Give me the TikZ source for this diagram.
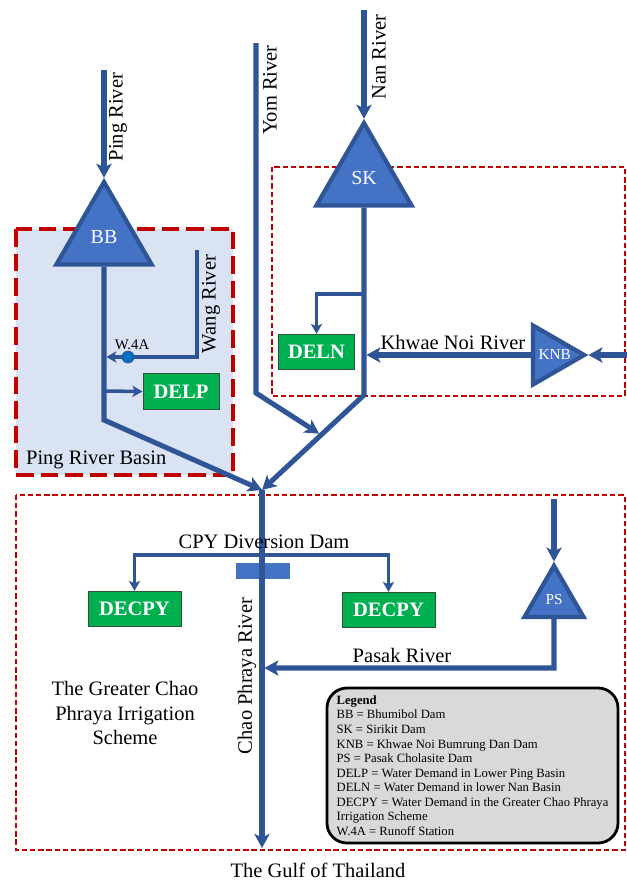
\documentclass[tikz,border=0pt]{standalone}
\usepackage{fontspec}
\setmainfont{Liberation Serif}
\usetikzlibrary{arrows.meta,shapes.geometric,positioning,calc}
\definecolor{rivblue}{HTML}{2F5597}
\definecolor{damblue}{HTML}{4472C4}
\definecolor{demgreen}{HTML}{00B050}
\definecolor{demline}{HTML}{2E5232}
\definecolor{basinred}{HTML}{C00000}
\definecolor{basinfill}{HTML}{DAE3F3}
\definecolor{legendgray}{HTML}{D9D9D9}
\definecolor{gaugeblue}{HTML}{0070C0}
\tikzset{dam/.style={regular polygon, regular polygon sides=3, draw=rivblue, fill=damblue, line width=3.6pt, inner sep=0pt, minimum size=3.3cm, text=white, font=\fontsize{17}{17}\selectfont},
smalldam/.style={dam, minimum size=2.05cm, font=\fontsize{13}{13}\selectfont},
damtext/.style={text=white, font=\fontsize{13}{13}\selectfont},
dembox/.style={draw=demline, fill=demgreen, line width=0.8pt, text=white, inner sep=0pt, minimum width=2.28cm, minimum height=1.06cm, font=\bfseries\fontsize{17.5}{17.5}\selectfont},
riverline/.style={draw=rivblue, line width=4.3pt, -{Stealth[length=12pt, width=13pt, inset=3pt]}},
branch/.style={draw=rivblue, line width=3pt, -{Stealth[length=8.5pt, width=9.5pt, inset=2pt]}},
basinthick/.style={draw=basinred, line width=4.2pt, dash pattern=on 15pt off 6pt},
basinthin/.style={draw=basinred, line width=1.4pt, dash pattern=on 4.5pt off 2.5pt},
gauge/.style={circle, fill=gaugeblue, draw=rivblue, line width=0.6pt, inner sep=0pt, minimum size=0.36cm},
legendbox/.style={draw=black, line width=2.4pt, fill=legendgray, rounded corners=0.6cm, align=left, minimum width=8.73cm, minimum height=4.65cm, font=\fontsize{10.8}{12.4}\selectfont}}

\begin{document}
\begin{tikzpicture}[x=0.03cm, y=-0.03cm, font=\fontsize{17.5}{21.3}\selectfont]
\useasboundingbox (0,0) rectangle (627,883);
\filldraw[basinthick, fill=basinfill] (16,229) rectangle (233,475);
\draw[basinthin] (272,167) rectangle (625,396);
\draw[basinthin] (16,495) rectangle (625,850);

\node[dam] (BB) at (104,237) {BB};
\node[dam] (SK) at (364,178) {SK};
\node[smalldam, shape border rotate=-90, label={[damtext, xshift=4pt]center:KNB}] (KNB) at (550,355) {};
\node[smalldam] (PS) at (554,600) {PS};
\node[dembox] (DELP) at (181,391.5) {DELP};
\node[dembox] (DELN) at (316.5,352) {DELN};
\node[dembox, minimum width=2.79cm] (DECPYl) at (134.5,609) {DECPY};
\node[dembox, minimum width=2.79cm] (DECPYr) at (388.5,610) {DECPY};
\node[fill=damblue, inner sep=0pt, minimum width=1.62cm, minimum height=0.48cm] (CPY) at (263,571) {};

\coordinate (pingsrc) at (104,70);
\coordinate (pingbend) at (104,420);
\coordinate (pingW) at (104,357);
\coordinate (pingD) at (104,391);
\coordinate (wangsrc) at (197,250);
\coordinate (yomsrc) at (256,43);
\coordinate (yombend) at (256,393);
\coordinate (nansrc) at (364,10);
\coordinate (nanbend) at (364,395);
\coordinate (nanD) at (364,294);
\coordinate (nanK) at (364,355);
\coordinate (khwsrc) at (627,355);
\coordinate (J) at (262,490);
\coordinate (yomjoin) at ($(nanbend)!0.42!(J)$);
\coordinate (cpyC) at (262,555);
\coordinate (pssrc) at (554,499);
\coordinate (psbend) at (554,668);
\coordinate (chaoP) at (262,668);
\coordinate (gulf) at (262,848);

\draw[riverline] (pingsrc) -- (BB.corner 1);
\draw[riverline] (BB.south) -- (pingbend) -- (J);
\draw[branch, shorten >=2pt] (wangsrc) |- (pingW);
\draw[branch] (pingD) -- (DELP.west);
\draw[riverline, shorten >=2pt] (yomsrc) -- (yombend) -- (yomjoin);
\draw[riverline] (nansrc) -- (SK.corner 1);
\draw[riverline] (SK.south) -- (nanbend) -- (J);
\draw[branch] (nanD) -| (DELN.north);
\draw[riverline] (khwsrc) -- (KNB.corner 1);
\draw[riverline, shorten >=2pt] (KNB.west) -- (nanK);
\draw[riverline] (J) -- (gulf);
\draw[branch] (cpyC) -| (DECPYl.north);
\draw[branch] (cpyC) -| (DECPYr.north);
\draw[riverline] (pssrc) -- (PS.corner 1);
\draw[riverline, shorten >=2pt] (PS.south) -- (psbend) -- (chaoP);
\node[gauge] (W4A) at (128,357) {};

\node[rotate=90] (lblPing) at (118,117) {Ping River};
\node[rotate=90] (lblYom) at (270,90) {Yom River};
\node[rotate=90] (lblNan) at (379,57) {Nan River};
\node[rotate=90] (lblWang) at (211,304) {Wang River};
\node[font=\fontsize{12.6}{12.6}\selectfont] (lblW4A) at (132,345) {W.4A};
\node[anchor=west] (lblBasin) at (22,460) {Ping River Basin};
\node (lblKhwae) at (453,342) {Khwae Noi River};
\node (lblCPY) at (264,542) {CPY Diversion Dam};
\node (lblPasak) at (402,655) {Pasak River};
\node[rotate=90] (lblChao) at (247,676) {Chao Phraya River};
\node[align=center] (lblGCP) at (125,713) {The Greater Chao\\Phraya Irrigation\\Scheme};
\node (lblGulf) at (318,870) {The Gulf of Thailand};

\node[legendbox] (legend) at (472.5,765.5) {\textbf{Legend}\\
BB = Bhumibol Dam\\
SK = Sirikit Dam\\
KNB = Khwae Noi Bumrung Dan Dam\\
PS = Pasak Cholasite Dam\\
DELP = Water Demand in Lower Ping Basin\\
DELN = Water Demand in lower Nan Basin\\
DECPY = Water Demand in the Greater Chao Phraya\\
Irrigation Scheme\\
W.4A = Runoff Station};
\end{tikzpicture}
\end{document}
